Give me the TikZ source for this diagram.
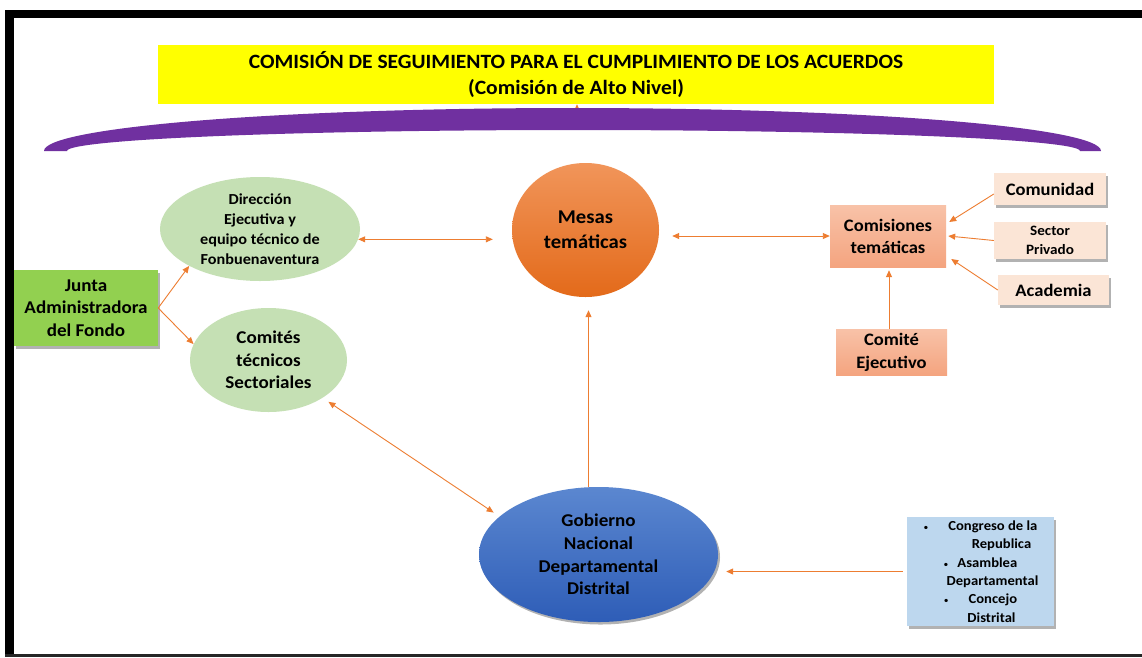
\documentclass[tikz,border=0pt]{standalone}
\usepackage{fontspec}
\setmainfont{Carlito}[FakeStretch=1.06]
\usetikzlibrary{shapes.geometric,shadows,arrows.meta}
\definecolor{arr}{HTML}{ED7D31}
\definecolor{yel}{HTML}{FFFF00}
\definecolor{purp}{HTML}{7030A0}
\definecolor{greenl}{HTML}{C5E0B4}
\definecolor{greend}{HTML}{92D050}
\definecolor{orTop}{HTML}{F1955A}
\definecolor{orBot}{HTML}{E36A1A}
\definecolor{salTop}{HTML}{F8C2A8}
\definecolor{salBot}{HTML}{F4A47F}
\definecolor{peach}{HTML}{FBE5D6}
\definecolor{blTop}{HTML}{5B87D0}
\definecolor{blBot}{HTML}{2E5DB7}
\definecolor{lblue}{HTML}{BDD7EE}
\begin{document}
\begin{tikzpicture}[x=1pt,y=-1pt,
  conn/.style={draw=arr, line width=0.9pt, -{Triangle[length=7pt,width=6pt]}},
  conn2/.style={draw=arr, line width=0.9pt, {Triangle[length=7pt,width=6pt]}-{Triangle[length=7pt,width=6pt]}},
  fs/.style 2 args={font=\bfseries\fontsize{#1}{#2}\selectfont},
  every node/.style={align=center, text=black, inner sep=0pt},
  shad/.style={drop shadow={shadow xshift=2pt, shadow yshift=-2.5pt, opacity=0.3, fill=black}}
]
\useasboundingbox (0,0) rectangle (1142,657);
\fill[white] (0,0) rectangle (1142,657);

% title
\node[rectangle, fill=yel, minimum width=836pt, minimum height=59pt, fs={20.3}{26}] (title) at (576,74.5)
  {COMISIÓN DE SEGUIMIENTO PARA EL CUMPLIMIENTO DE LOS ACUERDOS\\(Comisión de Alto Nivel)};
\coordinate (hid) at (577,124);
\draw[conn] (hid) -- (title.south -| hid);

% purple arc
\fill[purp] (44,151) arc[start angle=180, end angle=0, x radius=528.5pt, y radius=43pt]
  -- (1080,151) arc[start angle=0, end angle=180, x radius=506.5pt, y radius=21pt] -- cycle;

% nodes
\node[ellipse, fill=greenl, minimum width=200pt, minimum height=104pt, fs={15.3}{20}] (dir) at (260,229)
  {Dirección\\Ejecutiva y\\equipo técnico de\\Fonbuenaventura};
\node[ellipse, fill=greenl, minimum width=157pt, minimum height=104pt, fs={18}{22.5}] (com) at (268.5,360)
  {Comités\\técnicos\\Sectoriales};
\node[rectangle, fill=greend, shad, minimum width=144pt, minimum height=76pt, fs={18}{22.5}] (junta) at (86,308)
  {Junta\\Administradora\\del Fondo};
\node[ellipse, shading=axis, top color=orTop, bottom color=orBot, minimum width=147pt, minimum height=134pt, fs={19.5}{25}] (mesas) at (585.5,230)
  {Mesas\\temáticas};
\node[rectangle, shading=axis, top color=salTop, bottom color=salBot, minimum width=116pt, minimum height=62pt, fs={17.5}{22}] (comis) at (888,236)
  {Comisiones\\temáticas};
\node[rectangle, shading=axis, top color=salTop, bottom color=salBot, minimum width=111pt, minimum height=46pt, fs={17.5}{23}] (cej) at (891.5,352)
  {Comité\\Ejecutivo};
\node[rectangle, fill=peach, shad, minimum width=112pt, minimum height=32pt, fs={17.5}{20}] (comun) at (1050,189) {Comunidad};
\node[rectangle, fill=peach, shad, minimum width=112pt, minimum height=37pt, fs={14.3}{19}] (sect) at (1050,240.5) {Sector\\Privado};
\node[rectangle, fill=peach, shad, minimum width=111pt, minimum height=30pt, fs={17.5}{20}] (acad) at (1053.5,290) {Academia};
\node[ellipse, shading=axis, top color=blTop, bottom color=blBot, shad, minimum width=239pt, minimum height=135pt, fs={18}{22.7}] (gob) at (598.5,554.5)
  {Gobierno\\Nacional\\Departamental\\Distrital};
\node[rectangle, fill=lblue, shad, minimum width=147pt, minimum height=109pt, fs={13.8}{18.4}] (cong) at (980.5,571.5)
  {{\normalfont\fontsize{9}{9}\selectfont\textbullet}\hspace{20pt}Congreso de la\\\hspace*{42pt}Republica\\{\normalfont\fontsize{9}{9}\selectfont\textbullet}\hspace{9pt}Asamblea\\\hspace*{24pt}Departamental\\{\normalfont\fontsize{9}{9}\selectfont\textbullet}\hspace{20pt}Concejo\\\hspace*{22pt}Distrital};

% connectors
\draw[conn] (junta.east) -- (dir.south west);
\draw[conn] (junta.east) -- (com.168);
\draw[conn2, shorten >=19pt] (dir.-6) -- (dir.-6 -| mesas.west);
\draw[conn2, shorten <=13pt] (mesas.east |- comis.west) -- (comis.west);
\draw[conn, shorten >=13pt] ([xshift=-10pt]gob.north) -- ([xshift=-10pt]gob.north |- mesas.south);
\draw[conn2, shorten <=7pt, shorten >=7pt] (com.-35) -- (gob.159);
\draw[conn, shorten <=4pt, shorten >=8pt] (cong.west) -- (cong.west -| gob.east);
\draw[conn, shorten >=3pt] ([xshift=-2.5pt]cej.north) -- ([xshift=-2.5pt]cej.north |- comis.south);
\draw[conn] ([yshift=-5pt]comun.west) -- ([xshift=3pt,yshift=14pt]comis.east);
\draw[conn] (sect.west) -- ([xshift=2pt]comis.east);
\draw[conn] (acad.west) -- ([xshift=5pt,yshift=-23pt]comis.east);

% frame
\fill[black] (5,10) rectangle (1142,18);
\fill[black] (5,10) rectangle (14,657);
\fill[black!85] (5,654) rectangle (1142,657);
\end{tikzpicture}
\end{document}
